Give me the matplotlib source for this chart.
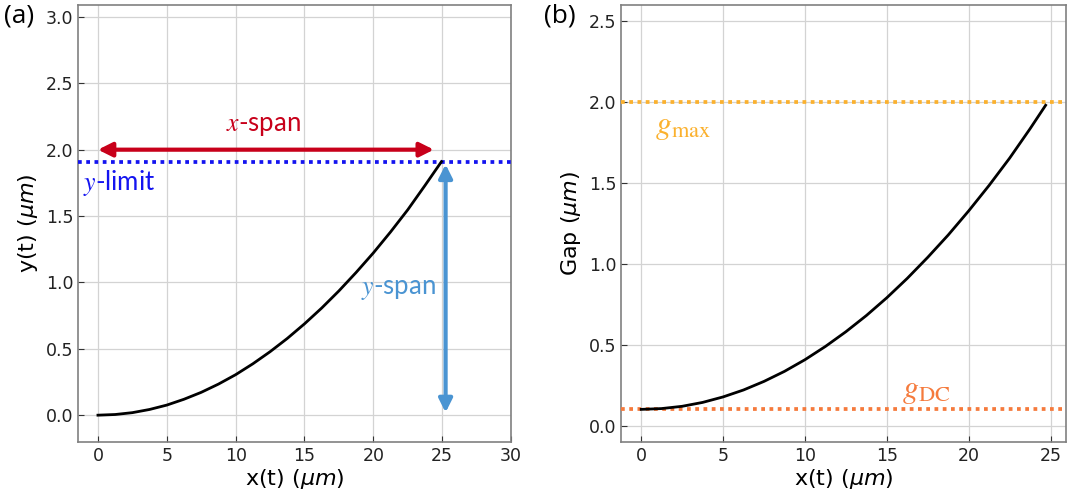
import matplotlib
matplotlib.use("Agg")
import matplotlib.pyplot as plt

# ---- data ----
xa = [0, 1.25, 2.5, 3.75, 5, 6.25, 7.5, 8.75, 10, 11.25, 12.5, 13.75, 15,
      16.25, 17.5, 18.75, 20, 21.25, 22.5, 23.75, 24.95]
ya = [0, 0.005, 0.019, 0.043, 0.076, 0.12, 0.172, 0.234, 0.305, 0.387, 0.478,
      0.578, 0.688, 0.807, 0.936, 1.075, 1.222, 1.38, 1.547, 1.73, 1.91]

xb = [0, 1.25, 2.5, 3.75, 5, 6.25, 7.5, 8.75, 10, 11.25, 12.5, 13.75, 15,
      16.25, 17.5, 18.75, 20, 21.25, 22.5, 23.75, 24.7]
gb = [0.1, 0.105, 0.119, 0.143, 0.177, 0.22, 0.273, 0.335, 0.407, 0.489, 0.58,
      0.68, 0.79, 0.91, 1.04, 1.178, 1.327, 1.485, 1.653, 1.835, 1.98]

y_limit = 1.91
x_span = (0, 24.4)
x_span_y = 2.0
y_span = (1.89, 0.02)
y_span_x = 25.25
g_max = 2.0
g_dc = 0.1

xticks_a = [0, 5, 10, 15, 20, 25, 30]
yticks_a = [0.0, 0.5, 1.0, 1.5, 2.0, 2.5, 3.0]
xticks_b = [0, 5, 10, 15, 20, 25]
yticks_b = [0.0, 0.5, 1.0, 1.5, 2.0, 2.5]

fig = plt.figure(figsize=(10.67, 4.98), dpi=100)
axa = fig.add_axes([0.0731, 0.113, 0.4058, 0.877])
axb = fig.add_axes([0.582, 0.113, 0.417, 0.877])

spine_c = "#808080"
grid_c = "#D3D3D3"
for ax in (axa, axb):
    ax.grid(True, color=grid_c, lw=0.9)
    ax.set_axisbelow(True)
    for s in ax.spines.values():
        s.set_color(spine_c)
        s.set_linewidth(1.2)
    ax.tick_params(direction="in", labelsize=12.5, color="#333333", length=4,
                   labelcolor="#222222")

ann_font = "Lato"
dot = (0, (1, 1.2))

# ---- panel (a) ----
axa.plot(xa, ya, color="black", lw=2.0, zorder=4)
axa.axhline(y_limit, color="#1414F0", lw=2.7, ls=dot, zorder=3)
axa.annotate("", xy=(x_span[1], x_span_y), xytext=(x_span[0], x_span_y),
             arrowprops=dict(arrowstyle="<|-|>", color="#C8001A", lw=3,
                             mutation_scale=21, shrinkA=0, shrinkB=0))
axa.annotate("", xy=(y_span_x, y_span[1]), xytext=(y_span_x, y_span[0]),
             arrowprops=dict(arrowstyle="<|-|>", color="#4A94D2", lw=3,
                             mutation_scale=20, shrinkA=0, shrinkB=0))
axa.text(12.05, 2.18, "$x$-span", color="#C8001A", fontsize=18.5,
         family=ann_font, math_fontfamily="stix", ha="center", va="center")
axa.text(-1.1, 1.75, "$y$-limit", color="#1414F0", fontsize=18.5,
         family=ann_font, math_fontfamily="stix", ha="left", va="center")
axa.text(24.5, 0.95, "$y$-span", color="#4A94D2", fontsize=18.5,
         family=ann_font, math_fontfamily="stix", ha="right", va="center")
axa.set_xlim(-1.45, 30)
axa.set_ylim(-0.2, 3.09)
axa.set_xticks(xticks_a)
axa.set_yticks(yticks_a)
axa.set_xlabel(r"x(t) ($\mu m$)", fontsize=16, labelpad=2)
axa.set_ylabel(r"y(t) ($\mu m$)", fontsize=16, labelpad=4)

# ---- panel (b) ----
axb.plot(xb, gb, color="black", lw=2.0, zorder=4)
axb.axhline(g_max, color="#FBB12E", lw=2.7, ls=dot, zorder=3)
axb.axhline(g_dc, color="#F57A3C", lw=2.7, ls=dot, zorder=3)
axb.text(0.85, 1.85, r"$g_{\mathrm{max}}$", color="#FBB12E", fontsize=23,
         math_fontfamily="stix", ha="left", va="center")
axb.text(15.95, 0.215, r"$g_{\mathrm{DC}}$", color="#F57A3C", fontsize=23,
         math_fontfamily="stix", ha="left", va="center")
axb.set_xlim(-1.235, 25.94)
axb.set_ylim(-0.1, 2.6)
axb.set_xticks(xticks_b)
axb.set_yticks(yticks_b)
axb.set_xlabel(r"x(t) ($\mu m$)", fontsize=16, labelpad=2)
axb.set_ylabel(r"Gap ($\mu m$)", fontsize=16, labelpad=4)

fig.text(0.004, 0.968, "(a)", fontsize=19, family="Open Sans", va="center")
fig.text(0.510, 0.968, "(b)", fontsize=19, family="Open Sans", va="center")

fig.savefig("out.png", dpi=100)
